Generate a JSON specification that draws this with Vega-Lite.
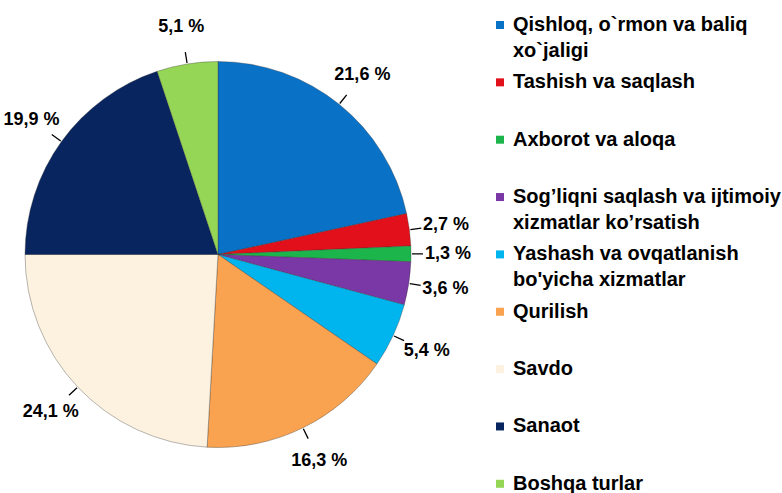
{
  "$schema": "https://vega.github.io/schema/vega-lite/v6.json",
  "width": 426,
  "height": 477,
  "autosize": {"type": "none"},
  "padding": {"left": 5, "top": 16, "right": 351, "bottom": 0},
  "background": "white",
  "config": {"view": {"stroke": null}, "style": {"guide-label": {"lineHeight": 26}}},
  "data": {
    "values": [
      {"i": 1, "cat": "Qishloq, o`rmon va baliq|xo`jaligi", "v": 21.6, "label": "21,6 %"},
      {"i": 2, "cat": "Tashish va saqlash|", "v": 2.7, "label": "2,7 %"},
      {"i": 3, "cat": "Axborot va aloqa|", "v": 1.3, "label": "1,3 %"},
      {"i": 4, "cat": "Sog’liqni saqlash va ijtimoiy|xizmatlar ko’rsatish", "v": 3.6, "label": "3,6 %"},
      {"i": 5, "cat": "Yashash va ovqatlanish|bo'yicha xizmatlar", "v": 5.4, "label": "5,4 %"},
      {"i": 6, "cat": "Qurilish|", "v": 16.3, "label": "16,3 %"},
      {"i": 7, "cat": "Savdo|", "v": 24.1, "label": "24,1 %"},
      {"i": 8, "cat": "Sanaot|", "v": 19.9, "label": "19,9 %"},
      {"i": 9, "cat": "Boshqa  turlar|", "v": 5.1, "label": "5,1 %"}
    ]
  },
  "encoding": {
    "theta": {"field": "v", "type": "quantitative", "stack": true},
    "order": {"field": "i", "type": "quantitative", "sort": "ascending"}
  },
  "layer": [
    {
      "mark": {"type": "arc", "outerRadius": 193, "stroke": "#333333", "strokeWidth": 0.7, "strokeOpacity": 0.5},
      "encoding": {
        "color": {
          "field": "cat",
          "type": "nominal",
          "scale": {
            "domain": [
              "Qishloq, o`rmon va baliq|xo`jaligi",
              "Tashish va saqlash|",
              "Axborot va aloqa|",
              "Sog’liqni saqlash va ijtimoiy|xizmatlar ko’rsatish",
              "Yashash va ovqatlanish|bo'yicha xizmatlar",
              "Qurilish|",
              "Savdo|",
              "Sanaot|",
              "Boshqa  turlar|"
            ],
            "range": ["#0a72c6", "#e2101a", "#1cb54c", "#7a38a6", "#00b4ee", "#f9a24f", "#fdf2e0", "#08255f", "#95d656"]
          },
          "legend": {
            "orient": "none",
            "legendX": 485,
            "legendY": -1,
            "title": null,
            "padding": 0,
            "symbolType": "square",
            "symbolSize": 64,
            "symbolStrokeWidth": 0,
            "labelFont": "Liberation Sans, Arial",
            "labelFontSize": 20,
            "labelFontWeight": "bold",
            "labelColor": "#000000",
            "labelLimit": 0,
            "labelOffset": 3,
            "rowPadding": 11.35,
            "labelExpr": "split(datum.label, '|')",
            "encode": {"labels": {"lineHeight": {"value": 26}}}
          }
        }
      }
    },
    {
      "mark": {"type": "arc", "innerRadius": 194, "outerRadius": 205, "padAngle": 3.14, "fill": null, "stroke": "#000000", "strokeWidth": 1.3},
      "encoding": {
        "detail": {"field": "cat", "type": "nominal"}
      }
    },
    {
      "mark": {"type": "text", "radius": 230, "font": "Liberation Sans, Arial", "fontSize": 18, "fontWeight": "bold"},
      "encoding": {
        "text": {"field": "label", "type": "nominal"},
        "detail": {"field": "cat", "type": "nominal"},
        "color": {"value": "#000000"}
      }
    }
  ]
}
